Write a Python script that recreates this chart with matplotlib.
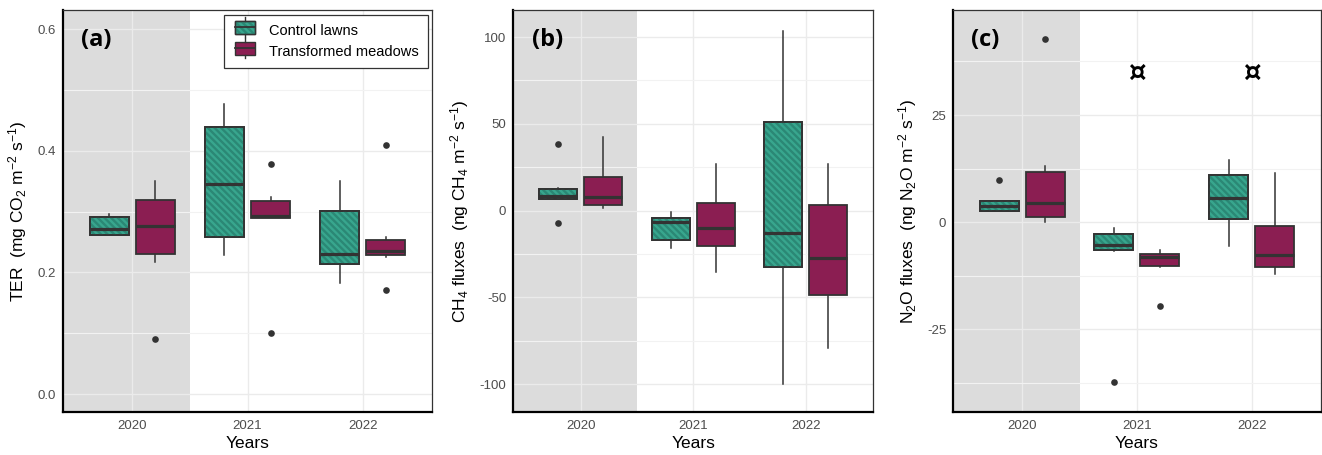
import numpy as np
import matplotlib
matplotlib.use('Agg')
import matplotlib.pyplot as plt
from matplotlib.patches import Rectangle, PathPatch
from matplotlib.lines import Line2D
from matplotlib.legend_handler import HandlerBase
from matplotlib.ticker import MultipleLocator

plt.rcParams['font.family'] = ['Liberation Sans', 'DejaVu Sans']
plt.rcParams['mathtext.fontset'] = 'custom'
plt.rcParams['mathtext.rm'] = 'Liberation Sans'
plt.rcParams['mathtext.it'] = 'Liberation Sans:italic'
plt.rcParams['hatch.linewidth'] = 1.7
plt.rcParams['axes.unicode_minus'] = False

years = ['2020', '2021', '2022']
groups = ['Control lawns', 'Transformed meadows']

# box stats per year: [lower whisker, q1, median, q3, upper whisker]
ter_ctrl = [[0.261, 0.261, 0.271, 0.291, 0.296],
            [0.229, 0.259, 0.346, 0.439, 0.478],
            [0.182, 0.214, 0.230, 0.301, 0.351]]
ter_ctrl_out = [[], [], []]
ter_trans = [[0.218, 0.231, 0.277, 0.319, 0.350],
             [0.290, 0.290, 0.293, 0.318, 0.325],
             [0.226, 0.228, 0.236, 0.253, 0.258]]
ter_trans_out = [[0.090], [0.378, 0.101], [0.409, 0.171]]

ch4_ctrl = [[6.9, 6.9, 8.5, 12.5, 13.3],
            [-21.3, -17.1, -6.3, -4.2, -1.0],
            [-100.0, -32.5, -12.7, 51.0, 103.3]]
ch4_ctrl_out = [[38.3, -6.9], [], []]
ch4_trans = [[1.7, 3.1, 7.7, 19.6, 42.5],
             [-35.6, -20.6, -10.0, 4.2, 27.1],
             [-79.2, -48.7, -27.1, 3.5, 27.1]]
ch4_trans_out = [[], [], []]

n2o_ctrl = [[2.5, 2.65, 3.74, 4.98, 4.98],
            [-6.7, -6.46, -5.22, -2.73, -1.48],
            [-5.45, 0.78, 5.7, 11.1, 14.4]]
n2o_ctrl_out = [[9.9], [-37.4], []]
n2o_trans = [[0.0, 1.09, 4.36, 11.6, 13.1],
             [-10.4, -10.2, -8.18, -7.4, -6.4],
             [-12.2, -10.5, -7.7, -0.86, 11.5]]
n2o_trans_out = [[42.7], [-19.6], []]

# significance marks (panel c)
sig_years = [1, 2]
sig_y = [34.9, 34.9]

teal = '#38A68E'
teal_hatch = '#2B8875'
purple = '#8B1E52'
dark = '#333333'
HATCH = '\\' * 5


def stats_list(rows, outs):
    res = []
    for r, o in zip(rows, outs):
        res.append(dict(whislo=r[0], q1=r[1], med=r[2], q3=r[3], whishi=r[4], fliers=o))
    return res


def draw_group(ax, rows, outs, offset, color, hatched):
    pos = np.arange(len(years)) + offset
    b = ax.bxp(stats_list(rows, outs), positions=pos, widths=0.34, patch_artist=True,
               showcaps=False, manage_ticks=False,
               boxprops=dict(facecolor=color, edgecolor=dark, linewidth=1.3),
               whiskerprops=dict(color=dark, linewidth=1.1),
               medianprops=dict(color=dark, linewidth=2.3),
               flierprops=dict(marker='o', markerfacecolor=dark, markeredgecolor='none',
                               markersize=4.8))
    for box in b['boxes']:
        box.set_zorder(3)
        if hatched:
            hp = PathPatch(box.get_path(), facecolor='none', edgecolor=teal_hatch,
                           hatch=HATCH, linewidth=0, zorder=3.1)
            ax.add_patch(hp)
            # edge again on top of the hatch
            ep = PathPatch(box.get_path(), facecolor='none', edgecolor=dark,
                           linewidth=1.3, zorder=3.2)
            ax.add_patch(ep)
    for m in b['medians']:
        m.set_zorder(4)


class BoxKey(HandlerBase):
    def __init__(self, color, hatched):
        super().__init__()
        self.color = color
        self.hatched = hatched

    def create_artists(self, legend, orig, xd, yd, width, height, fontsize, trans):
        w = height * 1.5
        x0 = xd + (width - w) / 2
        arts = []
        arts.append(Rectangle((x0, yd), w, height, facecolor=self.color, edgecolor=dark,
                              linewidth=1.0, transform=trans))
        if self.hatched:
            arts.append(Rectangle((x0, yd), w, height, facecolor='none', edgecolor=teal_hatch,
                                  hatch='\\' * 5, linewidth=0, transform=trans))
            arts.append(Rectangle((x0, yd), w, height, facecolor='none', edgecolor=dark,
                                  linewidth=1.0, transform=trans))
        cx = x0 + w / 2
        arts.append(Line2D([x0, x0 + w], [yd + height / 2] * 2, color=dark, lw=1.3,
                           transform=trans))
        arts.append(Line2D([cx, cx], [yd - height * 0.25, yd], color=dark, lw=1.0,
                           transform=trans))
        arts.append(Line2D([cx, cx], [yd + height, yd + height * 1.25], color=dark, lw=1.0,
                           transform=trans))
        return arts


fig = plt.figure(figsize=(13.22, 4.55), dpi=100)
W, H = 1322.0, 455.0
panels = [
    (63, 432, ter_ctrl, ter_ctrl_out, ter_trans, ter_trans_out, (-0.0296, 0.632), 0.2,
     r'TER  (mg CO$_2$ m$^{-2}$ s$^{-1}$)', '(a)', 0.091),
    (513.3, 873.3, ch4_ctrl, ch4_ctrl_out, ch4_trans, ch4_trans_out, (-116, 115.6), 50,
     r'CH$_4$ fluxes  (ng CH$_4$ m$^{-2}$ s$^{-1}$)', '(b)', 0.094),
    (953.3, 1320.5, n2o_ctrl, n2o_ctrl_out, n2o_trans, n2o_trans_out, (-44.3, 49.5), 25,
     r'N$_2$O fluxes  (ng N$_2$O m$^{-2}$ s$^{-1}$)', '(c)', 0.086),
]

axes = []
for (x0, x1, c_rows, c_out, t_rows, t_out, ylim, step, ylab, tag, tagx) in panels:
    ax = fig.add_axes([x0 / W, (H - 412) / H, (x1 - x0) / W, 402 / H])
    axes.append(ax)
    ax.set_facecolor('white')
    ax.axvspan(-0.6, 0.5, color='#DCDCDC', zorder=0.2, linewidth=0)
    ax.set_xlim(-0.6, 2.6)
    ax.set_ylim(*ylim)
    ax.yaxis.set_major_locator(MultipleLocator(step))
    ax.yaxis.set_minor_locator(MultipleLocator(step / 2))
    ax.set_xticks(range(len(years)))
    ax.set_xticklabels(years)
    if step == 0.2:
        ax.yaxis.set_major_formatter(matplotlib.ticker.FormatStrFormatter('%.1f'))
    ax.grid(True, which='major', color='#EBEBEB', linewidth=1.0, zorder=0.5)
    ax.grid(True, which='minor', axis='y', color='#F2F2F2', linewidth=0.8, zorder=0.5)
    ax.set_axisbelow(True)
    ax.tick_params(which='both', length=0, labelsize=9.5, labelcolor='#4D4D4D')
    ax.tick_params(axis='x', pad=6)
    ax.tick_params(axis='y', pad=5)
    for s in ['left', 'bottom']:
        ax.spines[s].set_linewidth(1.6)
        ax.spines[s].set_color('black')
    for s in ['top', 'right']:
        ax.spines[s].set_linewidth(0.9)
        ax.spines[s].set_color('#333333')
    draw_group(ax, c_rows, c_out, -0.2, teal, True)
    draw_group(ax, t_rows, t_out, 0.2, purple, False)
    ax.set_xlabel('Years', fontsize=12.5, labelpad=3)
    ax.set_ylabel(ylab, fontsize=12.5, labelpad=6)
    ax.text(tagx, 0.925, tag, transform=ax.transAxes, fontsize=17, fontweight='bold',
            ha='center', va='center', family=['Open Sans', 'DejaVu Sans'])

for xs, ys in zip(sig_years, sig_y):
    axes[2].text(xs, ys, '\u00a4', fontsize=20, fontweight='bold', ha='center', va='center',
                 color='black', family=['DejaVu Sans'])

h1 = Rectangle((0, 0), 1, 1)
h2 = Rectangle((0, 0), 1, 1)
leg = axes[0].legend([h1, h2], groups, loc='upper right', bbox_to_anchor=(0.988, 0.9876),
                     borderaxespad=0, fontsize=10.5, fancybox=False, framealpha=1,
                     edgecolor='#333333', handlelength=1.7, handleheight=1.0,
                     borderpad=0.6, labelspacing=0.45, handletextpad=0.8,
                     handler_map={h1: BoxKey(teal, True), h2: BoxKey(purple, False)})
leg.get_frame().set_linewidth(0.9)
leg.set_zorder(10)

fig.savefig('out.png', dpi=100)
